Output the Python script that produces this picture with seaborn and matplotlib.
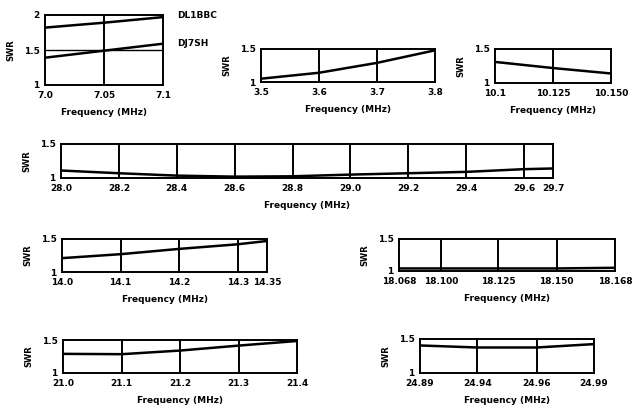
import matplotlib
matplotlib.use("Agg")
from matplotlib import pyplot as plt
import pandas as pd
import seaborn as sns

# SWR readings per band
freq_40m = [7.0, 7.05, 7.1]
swr_40m_dl1bbc = [1.82, 1.89, 1.97]
swr_40m_dj7sh = [1.39, 1.49, 1.59]

freq_80m = [3.5, 3.6, 3.7, 3.8]
swr_80m = [1.05, 1.14, 1.29, 1.48]

freq_30m = [10.1, 10.125, 10.15]
swr_30m = [1.31, 1.22, 1.14]

freq_10m = [28.0, 28.2, 28.4, 28.6, 28.8, 29.0, 29.2, 29.4, 29.6, 29.7]
swr_10m = [1.11, 1.07, 1.035, 1.02, 1.025, 1.05, 1.07, 1.09, 1.13, 1.14]

freq_20m = [14.0, 14.1, 14.2, 14.3, 14.35]
swr_20m = [1.21, 1.27, 1.35, 1.42, 1.47]

freq_17m = [18.068, 18.0875, 18.114, 18.141, 18.168]
swr_17m = [1.04, 1.04, 1.04, 1.04, 1.05]
labels_17m = ["18.068", "18.100", "18.125", "18.150", "18.168"]

freq_15m = [21.0, 21.1, 21.2, 21.3, 21.4]
swr_15m = [1.29, 1.285, 1.34, 1.415, 1.485]

freq_12m = [24.89, 24.923, 24.957, 24.99]
swr_12m = [1.405, 1.375, 1.375, 1.425]
labels_12m = ["24.89", "24.94", "24.96", "24.99"]

W, H = 633, 407
FS = 6.5

sns.set_style("white")
plt.rcParams["font.family"] = ["DejaVu Sans"]
plt.rcParams["font.weight"] = "bold"
plt.rcParams["text.color"] = "black"
plt.rcParams["axes.labelcolor"] = "black"
plt.rcParams["xtick.color"] = "black"
plt.rcParams["ytick.color"] = "black"

fig = plt.figure(figsize=(W / 100, H / 100), dpi=100)


def px_axes(x0, y0, x1, y1):
    """axes from pixel box (top-left origin)"""
    return fig.add_axes([x0 / W, 1 - y1 / H, (x1 - x0) / W, (y1 - y0) / H])


def band_panel(box, freqs, swr_series, ymax=1.5, xlabels=None, hgrid=None):
    ax = px_axes(*box)
    for swr in swr_series:
        df = pd.DataFrame({"f": freqs, "swr": swr})
        sns.lineplot(data=df, x="f", y="swr", ax=ax, color="black", lw=1.8)
    ax.set_xlim(freqs[0], freqs[-1])
    ax.set_ylim(1, ymax)
    ax.set_xticks(freqs)
    ax.set_xticklabels(xlabels if xlabels else [str(f) for f in freqs])
    yt = [1, 1.5] if ymax == 1.5 else [1, 1.5, 2]
    ax.set_yticks(yt)
    ax.set_yticklabels([("%g" % v) for v in yt])
    ax.tick_params(length=0, labelsize=FS, pad=4, colors="black")
    for f in freqs[1:-1]:
        ax.axvline(f, color="black", lw=1.4)
    if hgrid:
        ax.axhline(hgrid, color="black", lw=1.0)
    for s in ax.spines.values():
        s.set_color("black")
        s.set_linewidth(1.4)
    ax.set_xlabel("Frequency (MHz)", fontsize=FS, fontweight="bold", labelpad=6, color="black")
    ax.set_ylabel("SWR", fontsize=FS - 0.5, fontweight="bold", labelpad=6, color="black")
    return ax


# 40 m (two antennas)
ax = band_panel((45, 15, 163, 85), freq_40m, [swr_40m_dl1bbc, swr_40m_dj7sh], ymax=2,
                xlabels=["7.0", "7.05", "7.1"], hgrid=1.5)
fig.text(177 / W, 1 - 16 / H, "DL1BBC", fontsize=FS, fontweight="bold", va="center")
fig.text(177 / W, 1 - 43 / H, "DJ7SH", fontsize=FS, fontweight="bold", va="center")

# 80 m
band_panel((261, 49, 435, 82), freq_80m, [swr_80m])
# 30 m
band_panel((495, 49, 611, 83), freq_30m, [swr_30m], xlabels=["10.1", "10.125", "10.150"])
# 10 m
band_panel((61, 144, 553, 178), freq_10m, [swr_10m], xlabels=["%.1f" % f for f in freq_10m])
# 20 m
band_panel((62, 239, 267, 272), freq_20m, [swr_20m], xlabels=["14.0", "14.1", "14.2", "14.3", "14.35"])
# 17 m
band_panel((399, 239, 615, 271), freq_17m, [swr_17m], xlabels=labels_17m)
# 15 m
band_panel((63, 340, 297, 373), freq_15m, [swr_15m], xlabels=["%.1f" % f for f in freq_15m])
# 12 m
band_panel((420, 339, 594, 373), freq_12m, [swr_12m], xlabels=labels_12m)

fig.savefig("out.png", dpi=100)
